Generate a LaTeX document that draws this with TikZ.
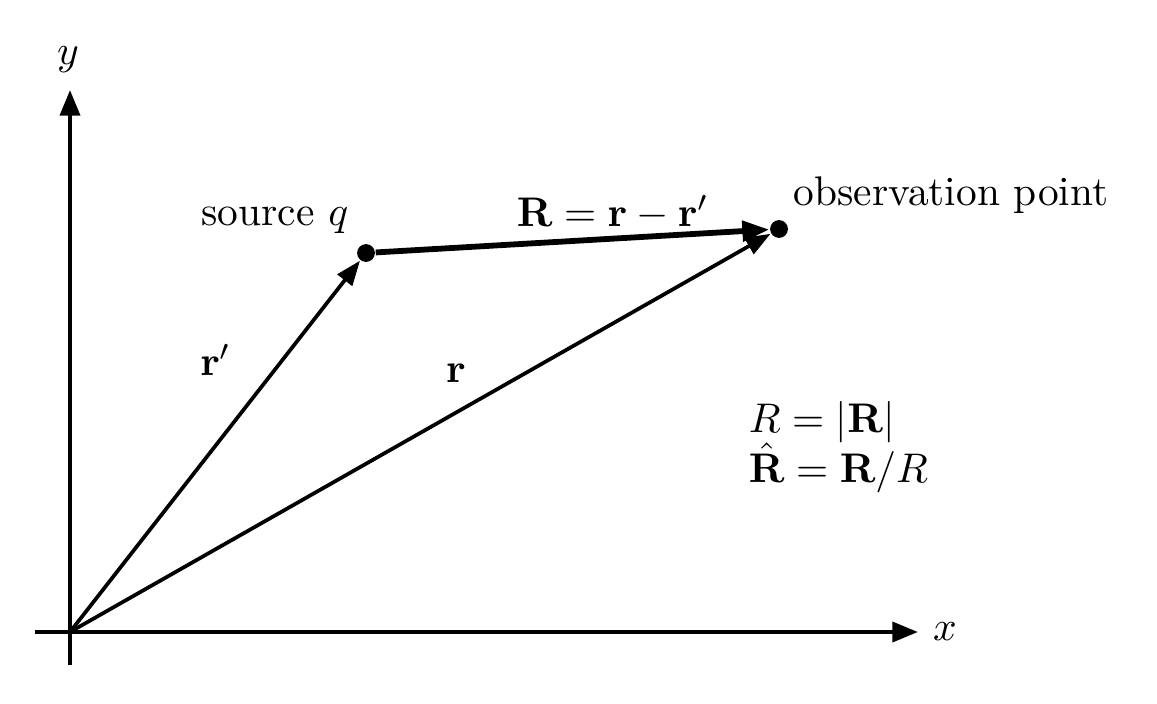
\documentclass[tikz,border=0pt]{standalone}
\usetikzlibrary{arrows.meta}
\begin{document}
\begin{tikzpicture}[x=0.2415pt,y=-0.2415pt,
  axis/.style={line width=1pt,-{Triangle[length=6.2pt,width=4.8pt]}},
  vec/.style={line width=0.9pt,-{Triangle[length=6pt,width=4.4pt]}},
  bigvec/.style={line width=1.4pt,-{Triangle[length=6.5pt,width=4.8pt]}},
  dot/.style={circle,fill=black,inner sep=0pt,minimum size=4.3pt},
  lbl/.style={inner sep=0pt}]
\useasboundingbox (0,0) rectangle (1157,703);
\coordinate (O) at (70,632);
\coordinate (xs) at (35,632);
\coordinate (xe) at (918,632);
\coordinate (ys) at (70,665);
\coordinate (ye) at (70,90);
\node[dot] (src) at (366,253) {};
\node[dot] (obs) at (779,229) {};
\draw[axis] (xs) -- (xe);
\draw[axis] (ys) -- (ye);
\draw[vec] (O) -- (src);
\draw[vec] (O) -- (obs);
\draw[bigvec] (src) -- (obs);
\node[lbl] (xl) at (945,632) {$x$};
\node[lbl] (yl) at (68,60) {$y$};
\node[lbl] (srcl) at (275,220) {source $q$};
\node[lbl,anchor=west] (obsl) at (793,195) {observation point};
\node[lbl] (Rl) at (613,213) {$\mathbf{R}=\mathbf{r}-\mathbf{r}'$};
\node[lbl] (rpl) at (216,360) {$\mathbf{r}'$};
\node[lbl] (rl) at (456,373) {$\mathbf{r}$};
\node[lbl,anchor=base west] (eq1) at (748,432) {$R=|\mathbf{R}|$};
\node[lbl,anchor=base west] (eq2) at (748,482) {$\hat{\mathbf{R}}=\mathbf{R}/R$};
\end{tikzpicture}
\end{document}
